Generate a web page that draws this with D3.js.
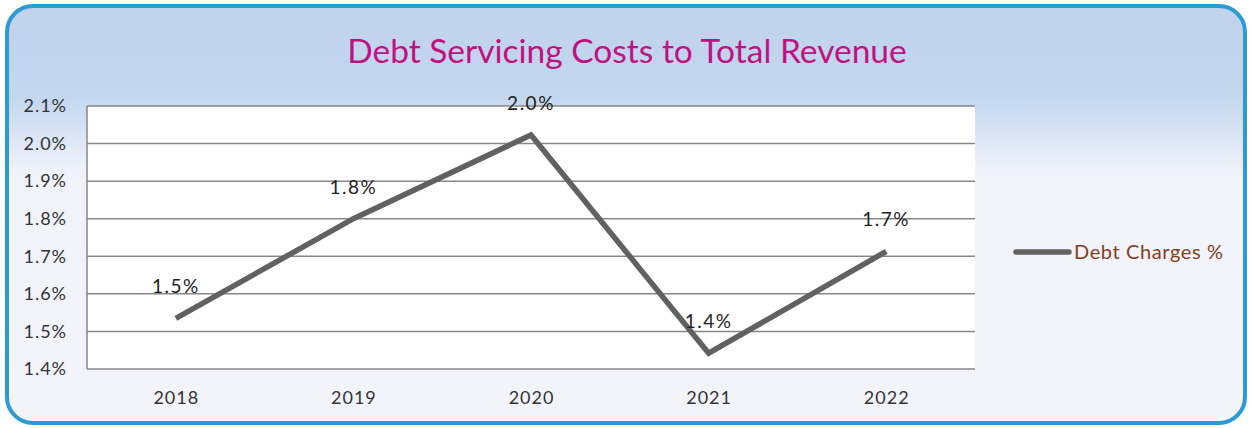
<!DOCTYPE html>
<html>
<head>
<meta charset="utf-8">
<script src="https://cdn.jsdelivr.net/npm/d3@7"></script>
<style>
  body { margin: 0; background: #fff; }
  svg { display: block; }
</style>
</head>
<body>
<div id="chart"></div>
<script>
var years  = ["2018", "2019", "2020", "2021", "2022"];
var values = [1.535, 1.80, 2.023, 1.442, 1.713];
var labels = ["1.5%", "1.8%", "2.0%", "1.4%", "1.7%"];
var yTicks = [1.4, 1.5, 1.6, 1.7, 1.8, 1.9, 2.0, 2.1];
var seriesName = "Debt Charges %";
var title = "Debt Servicing Costs to Total Revenue";

var W = 1252, H = 428;
var plot = { left: 87, right: 975, top: 106, bottom: 369 };
var font = "Lato, 'Open Sans', sans-serif";

var svg = d3.select('#chart').append('svg')
    .attr('width', W)
    .attr('height', H);

// fondo degradado
var grad = svg.append('defs').append('linearGradient')
    .attr('id', 'bg')
    .attr('x1', 0).attr('y1', 0).attr('x2', 0).attr('y2', 1);
grad.append('stop').attr('offset', '0%').attr('stop-color', '#c1d2ec');
grad.append('stop').attr('offset', '22%').attr('stop-color', '#c3d7ef');
grad.append('stop').attr('offset', '40%').attr('stop-color', '#f1f3fa');
grad.append('stop').attr('offset', '100%').attr('stop-color', '#f3f4fa');

svg.append('rect')
    .attr('x', 7).attr('y', 6)
    .attr('width', W - 14).attr('height', H - 11)
    .attr('rx', 26).attr('ry', 26)
    .attr('fill', 'url(#bg)')
    .attr('stroke', '#2a9bd4')
    .attr('stroke-width', 4);

svg.append('text')
    .attr('x', 627).attr('y', 63)
    .attr('text-anchor', 'middle')
    .attr('font-family', font)
    .attr('font-size', '33.5px')
    .attr('fill', '#c0127f')
    .text(title);

var x = d3.scalePoint()
    .domain(years)
    .range([plot.left, plot.right])
    .padding(0.5);

var y = d3.scaleLinear()
    .domain([1.4, 2.1])
    .range([plot.bottom, plot.top]);

svg.append('rect')
    .attr('x', plot.left).attr('y', plot.top)
    .attr('width', plot.right - plot.left)
    .attr('height', plot.bottom - plot.top)
    .attr('fill', '#fff');

// lineas de cuadricula
svg.append('g')
    .selectAll('line')
    .data(yTicks)
    .enter()
    .append('line')
        .attr('x1', plot.left).attr('x2', plot.right)
        .attr('y1', d => y(d)).attr('y2', d => y(d))
        .attr('stroke', '#878787')
        .attr('stroke-width', 1.5);

svg.append('line')
    .attr('x1', plot.left).attr('x2', plot.left)
    .attr('y1', plot.top).attr('y2', plot.bottom)
    .attr('stroke', '#878787')
    .attr('stroke-width', 1.5);

// etiquetas eje Y
var yAxis = svg.append('g')
    .attr('transform', 'translate(' + (plot.left - 20) + ',0)')
    .call(d3.axisLeft(y).tickValues(yTicks).tickSize(0).tickPadding(0)
        .tickFormat(d => d3.format('.1f')(d) + '%'));
yAxis.select('.domain').remove();
yAxis.selectAll('text')
    .attr('font-family', font)
    .attr('font-size', '18px')
    .attr('letter-spacing', '1px')
    .attr('fill', '#333');

// etiquetas eje X
var xAxis = svg.append('g')
    .attr('transform', 'translate(0,' + (plot.bottom + 20) + ')')
    .call(d3.axisBottom(x).tickSize(0).tickPadding(0));
xAxis.select('.domain').remove();
xAxis.selectAll('text')
    .attr('dy', '0.85em')
    .attr('font-family', font)
    .attr('font-size', '18px')
    .attr('letter-spacing', '1px')
    .attr('fill', '#333');

var line = d3.line()
    .x((d, i) => x(years[i]))
    .y(d => y(d));

svg.append('path')
    .datum(values)
    .attr('d', line)
    .attr('fill', 'none')
    .attr('stroke', '#616161')
    .attr('stroke-width', 5.5)
    .attr('stroke-linejoin', 'miter');

svg.append('g')
    .selectAll('text')
    .data(values)
    .enter()
    .append('text')
        .attr('x', (d, i) => x(years[i]))
        .attr('y', d => y(d) - 25)
        .attr('text-anchor', 'middle')
        .attr('font-family', font)
        .attr('font-size', '19px')
        .attr('letter-spacing', '1.5px')
        .attr('fill', '#222')
        .text((d, i) => labels[i]);

// leyenda
svg.append('line')
    .attr('x1', 1016).attr('x2', 1069)
    .attr('y1', 252).attr('y2', 252)
    .attr('stroke', '#616161')
    .attr('stroke-width', 5.5)
    .attr('stroke-linecap', 'round');

svg.append('text')
    .attr('x', 1074).attr('y', 259)
    .attr('font-family', font)
    .attr('font-size', '20px')
    .attr('letter-spacing', '0.6px')
    .attr('fill', '#84401a')
    .text(seriesName);
</script>
</body>
</html>
